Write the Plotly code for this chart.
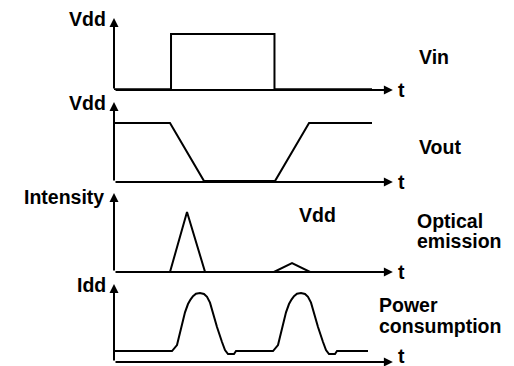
import plotly.graph_objects as go

# ---- data (time in arbitrary units, 0..100 = one window) ----
vin_t = [0, 22.1, 22.1, 62.2, 62.2, 100]
vin_v = [0.015, 0.015, 1.0, 1.0, 0.015, 0.015]

vout_t = [0, 21.7, 34.9, 62.4, 75.6, 100]
vout_v = [1.0, 1.0, 0.015, 0.015, 1.0, 1.0]

emis_t = [21.7, 28.3, 35.3, None, 62.0, 69.0, 76.0]
emis_v = [0, 1.0, 0, None, 0, 0.15, 0]

idd_t = [0, 22.48, 24.42, 25.58, 26.74, 27.52, 28.68, 29.65, 30.62, 31.78, 33.33, 34.88, 36.05,
         37.21, 37.98, 38.95, 39.92, 41.86, 43.02, 44.19, 46.51, 47.29,
         61.63, 63.57, 64.73, 65.89, 66.67, 67.83, 68.80, 69.77, 70.93, 72.48, 74.03, 75.19,
         76.36, 77.13, 78.10, 79.07, 81.01, 82.17, 83.33, 85.66, 86.43, 98.45]
idd_v = [0.159, 0.159, 0.246, 0.406, 0.600, 0.720, 0.840, 0.905, 0.955, 0.990, 1.0, 0.985, 0.945,
         0.860, 0.754, 0.623, 0.507, 0.290, 0.174, 0.116, 0.116, 0.159,
         0.159, 0.246, 0.406, 0.600, 0.720, 0.840, 0.905, 0.955, 0.990, 1.0, 0.985, 0.945,
         0.860, 0.754, 0.623, 0.507, 0.290, 0.174, 0.116, 0.116, 0.159, 0.159]

axis_labels = ["Vdd", "Vdd", "Intensity", "Idd"]
signal_labels = ["Vin", "Vout", "Optical", "emission", "Power", "consumption"]
time_label = "t"
extra_label = "Vdd"

W, H = 514, 366
X_ORIGIN_PX, PX_PER_UNIT = 114, 2.58
T_AXIS_END = 108.1

# panel layout: (baseline px, arrow tip px, px per unit)
panels = [(90, 18, 56), (182, 102, 59), (272, 193, 60), (362, 284, 69)]

fig = go.Figure()
series = [(vin_t, vin_v), (vout_t, vout_v), (emis_t, emis_v), (idd_t, idd_v)]
for i, (tt, vv) in enumerate(series):
    yname = "y" if i == 0 else f"y{i+1}"
    fig.add_trace(go.Scatter(x=tt, y=vv, mode="lines", yaxis=yname, xaxis="x",
                             line=dict(color="black", width=2, shape="linear"),
                             connectgaps=False, hoverinfo="skip", showlegend=False))

layout = dict(
    width=W, height=H, margin=dict(l=0, r=0, t=0, b=0),
    paper_bgcolor="white", plot_bgcolor="white", showlegend=False,
    xaxis=dict(domain=[0, 1], range=[-X_ORIGIN_PX / PX_PER_UNIT, (W - X_ORIGIN_PX) / PX_PER_UNIT],
               visible=False, fixedrange=True),
)
annotations = []
font = dict(family="Liberation Sans, Arial, sans-serif", size=19.5, color="black")
for i, (base, tip, ppu) in enumerate(panels):
    key = "yaxis" if i == 0 else f"yaxis{i+1}"
    ref = "y" if i == 0 else f"y{i+1}"
    top = (base - tip) / ppu
    layout[key] = dict(domain=[1 - base / H, 1 - tip / H], range=[0, top],
                       visible=False, fixedrange=True, anchor="x")
    # y-axis arrow
    annotations.append(dict(x=0, y=top, ax=0, ay=0, xref="x", yref=ref, axref="x", ayref=ref,
                            text="", showarrow=True, arrowhead=2, arrowsize=0.9, arrowwidth=2,
                            arrowcolor="black", standoff=0))
    # t-axis arrow
    annotations.append(dict(x=T_AXIS_END, y=0, ax=0, ay=0, xref="x", yref=ref, axref="x", ayref=ref,
                            text="", showarrow=True, arrowhead=2, arrowsize=0.9, arrowwidth=2,
                            arrowcolor="black", standoff=0))

def label(text, xpx, ypx, xanchor):
    annotations.append(dict(x=xpx / W, y=1 - ypx / H, xref="paper", yref="paper",
                            text=f"<b>{text}</b>", showarrow=False, xanchor=xanchor,
                            yanchor="middle", font=font, align="left"))

axis_label_pos = [(108, 19), (108, 103), (106, 197), (108, 285)]
for txt, (xp, yp) in zip(axis_labels, axis_label_pos):
    label(txt, xp, yp, "right")

signal_label_pos = [(417, 57), (417, 147), (415, 221), (415, 241), (377, 305), (377, 326)]
for txt, (xp, yp) in zip(signal_labels, signal_label_pos):
    label(txt, xp, yp, "left")

for base, tip, ppu in panels:
    label(time_label, 396, min(base, 356), "left")

label(extra_label, 297, 215, "left")

layout["annotations"] = annotations
fig.update_layout(**layout)
fig.write_html("out.html", config={"displayModeBar": False},
               post_script="document.body.style.margin='0';document.body.style.overflow='hidden';")
